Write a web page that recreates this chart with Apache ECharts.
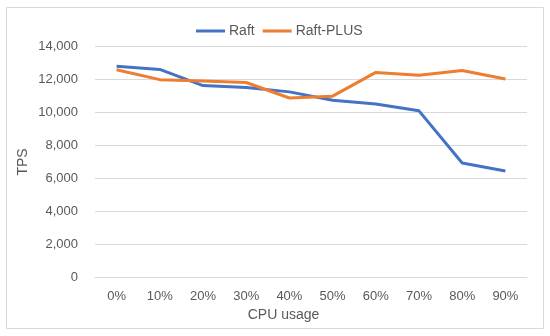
<!DOCTYPE html>
<html>
<head>
<meta charset="utf-8">
<script src="https://cdn.jsdelivr.net/npm/echarts@6/dist/echarts.min.js"></script>
<style>html,body{margin:0;padding:0;background:#fff}#c{width:550px;height:336px}</style>
</head>
<body>
<div id="c"></div>
<script>
const categories = ['0%','10%','20%','30%','40%','50%','60%','70%','80%','90%'];
const raft = [12780, 12580, 11600, 11480, 11220, 10710, 10480, 10070, 6910, 6420];
const raftPlus = [12560, 11960, 11880, 11790, 10850, 10960, 12400, 12230, 12520, 12000];
const yTicks = { min: 0, max: 14000, interval: 2000 };
const FONT = 'Liberation Sans';
const TXT = '#595959';

const chart = echarts.init(document.getElementById('c'));
chart.setOption({
  animation: false,
  backgroundColor: '#fff',
  textStyle: { fontFamily: FONT },
  grid: { left: 95, right: 23, top: 46, bottom: 59 },
  legend: {
    left: 196, top: 24, padding: 0,
    icon: 'rect', itemWidth: 29, itemHeight: 3, itemGap: 8,
    textStyle: { fontFamily: FONT, fontSize: 14, color: TXT, padding: [0,0,0,-1] },
    data: ['Raft', 'Raft-PLUS']
  },
  xAxis: {
    type: 'category', data: categories, boundaryGap: true,
    axisLine: { show: true, lineStyle: { color: '#d9d9d9', width: 1 } },
    axisTick: { show: false },
    axisLabel: { color: TXT, fontSize: 13, fontFamily: FONT, margin: 13 }
  },
  yAxis: {
    type: 'value', min: yTicks.min, max: yTicks.max, interval: yTicks.interval,
    axisLine: { show: false }, axisTick: { show: false },
    splitLine: { lineStyle: { color: '#d9d9d9', width: 1 } },
    axisLabel: { color: TXT, fontSize: 13, fontFamily: FONT, margin: 17,
      formatter: v => v.toLocaleString('en-US') }
  },
  graphic: [
    { type: 'rect', shape: { x: 6.5, y: 7.5, width: 537, height: 321 }, style: { fill: 'none', stroke: '#d9d9d9', lineWidth: 1 }, z: -1 },
    { type: 'text', x: 283.5, y: 315, style: { text: 'CPU usage', fontFamily: FONT, fontSize: 14, fill: TXT, align: 'center', verticalAlign: 'middle' } },
    { type: 'text', x: 23, y: 162, rotation: Math.PI / 2, style: { text: 'TPS', fontFamily: FONT, fontSize: 14, fill: TXT, align: 'center', verticalAlign: 'middle' } }
  ],
  series: [
    { name: 'Raft', type: 'line', data: raft, symbol: 'none', lineStyle: { color: '#4472C4', width: 3 }, itemStyle: { color: '#4472C4' } },
    { name: 'Raft-PLUS', type: 'line', data: raftPlus, symbol: 'none', lineStyle: { color: '#ED7D31', width: 3 }, itemStyle: { color: '#ED7D31' } }
  ]
});
</script>
</body>
</html>
